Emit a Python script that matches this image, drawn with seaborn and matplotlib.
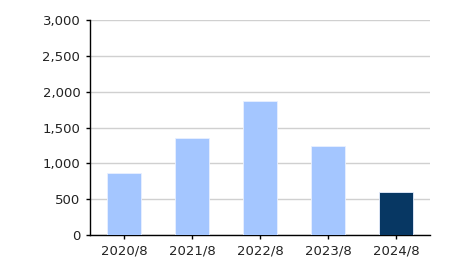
import matplotlib
matplotlib.use("Agg")
import matplotlib.pyplot as plt
import seaborn as sns
import pandas as pd

categories = ["2020/8", "2021/8", "2022/8", "2023/8", "2024/8"]
values = [865, 1355, 1870, 1240, 600]
colors = ["#A4C6FF", "#A4C6FF", "#A4C6FF", "#A4C6FF", "#073763"]
yticks = [0, 500, 1000, 1500, 2000, 2500, 3000]

sns.set_style("white")
plt.rcParams['font.family'] = ['DejaVu Sans']

df = pd.DataFrame({"cat": categories, "val": values})
fig = plt.figure(figsize=(4.5, 2.65), dpi=100)
ax = fig.add_axes([0.2, 0.1132, 0.7556, 0.8113])
sns.barplot(data=df, x="cat", y="val", hue="cat", palette=colors, legend=False,
            saturation=1, width=0.5, ax=ax, edgecolor="#e8f0ff", linewidth=0.6, zorder=3)
ax.set_ylim(0, 3000)
ax.set_xlim(-0.5, 4.5)
ax.set_yticks(yticks)
ax.set_yticklabels([f"{v:,}" for v in yticks])
ax.yaxis.grid(True, color="#d0d0d0", linewidth=1, zorder=0)
ax.set_axisbelow(True)
for s in ["top", "right"]:
    ax.spines[s].set_visible(False)
for s in ["left", "bottom"]:
    ax.spines[s].set_color("black")
    ax.spines[s].set_linewidth(1)
ax.tick_params(axis="both", which="both", length=3, width=1, color="black",
               labelsize=9.5, labelcolor="#222222", left=True, bottom=True, pad=4)
ax.set_xlabel("")
ax.set_ylabel("")
fig.savefig("out.png", dpi=100)
